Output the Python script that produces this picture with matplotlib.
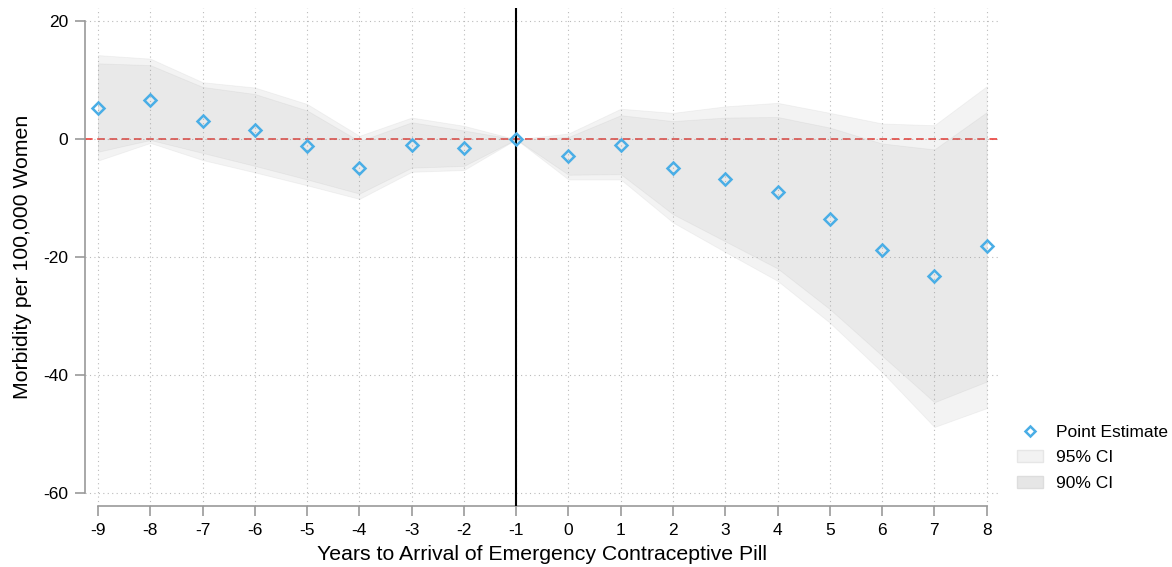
import matplotlib.pyplot as plt
import numpy as np
from matplotlib.patches import Patch
from matplotlib.lines import Line2D

plt.rcParams['font.family'] = ['Liberation Sans', 'DejaVu Sans']
plt.rcParams['axes.unicode_minus'] = False

years = [-9, -8, -7, -6, -5, -4, -3, -2, -1, 0, 1, 2, 3, 4, 5, 6, 7, 8]
point = [5.4, 6.6, 3.2, 1.6, -1.1, -4.9, -0.9, -1.5, 0.0, -2.8, -0.9, -4.9, -6.7, -8.9, -13.5, -18.7, -23.2, -18.1]
ci95_hi = [14.3, 13.7, 9.7, 8.8, 6.0, 0.6, 3.7, 2.3, 0.0, 1.0, 5.2, 4.5, 5.6, 6.2, 4.5, 2.7, 2.4, 9.0]
ci95_lo = [-3.6, -0.6, -3.5, -5.6, -7.8, -10.1, -5.5, -5.2, 0.0, -6.8, -6.8, -14.1, -19.1, -24.0, -31.1, -39.5, -48.8, -45.6]
ci90_hi = [12.9, 12.6, 8.9, 7.7, 4.9, -0.3, 2.9, 1.5, 0.0, 0.4, 4.1, 3.1, 3.7, 3.8, 2.0, -0.7, -1.7, 4.6]
ci90_lo = [-2.1, -0.1, -2.3, -4.5, -6.8, -9.2, -4.8, -4.5, 0.0, -6.0, -5.9, -12.7, -17.3, -21.9, -28.8, -36.7, -44.6, -41.1]

fig = plt.figure(figsize=(11.72, 5.67), dpi=100)
ax = fig.add_axes([0.0725, 0.1076, 0.7805, 0.8784])

gray = (0.6, 0.6, 0.6)
ax.axhline(0, color='#e8302a', lw=1.1, ls=(0, (5, 3)), zorder=1)
ax.fill_between(years, ci95_lo, ci95_hi, facecolor=gray, alpha=0.11,
                edgecolor=gray, lw=0.6, zorder=2)
ax.fill_between(years, ci90_lo, ci90_hi, facecolor=gray, alpha=0.11,
                edgecolor=gray, lw=0.6, zorder=3)
ax.axvline(-1, color='black', lw=1.5, zorder=4)
ax.plot(years, point, ls='none', marker='D', ms=6.5, mfc='none',
        mec='#4aaee6', mew=1.8, zorder=5)

ax.set_xlim(-9.25, 8.25)
ax.set_ylim(-62.2, 22.3)
ax.set_xticks(years)
ax.set_xticklabels([str(y) for y in years])
ax.set_yticks([20, 0, -20, -40, -60])
ax.grid(True, ls=(0, (1, 3)), color='#bbbbbb', lw=0.8)
ax.set_axisbelow(True)

for s in ['top', 'right']:
    ax.spines[s].set_visible(False)
ax.spines['left'].set_bounds(-60, 20)
ax.spines['bottom'].set_bounds(-9, 8)
for s in ['left', 'bottom']:
    ax.spines[s].set_color('#999999')
    ax.spines[s].set_linewidth(1.2)
ax.tick_params(colors='#999999', length=7, width=1.2, labelcolor='black',
               labelsize=12.5, pad=5)

ax.set_xlabel('Years to Arrival of Emergency Contraceptive Pill', fontsize=15.3, labelpad=5)
ax.set_ylabel('Morbidity per 100,000 Women', fontsize=15.3, labelpad=8)

handles = [
    Line2D([], [], ls='none', marker='D', ms=5.5, mfc='none', mec='#4aaee6', mew=1.8),
    Patch(facecolor='#f2f2f2', edgecolor='#e6e6e6'),
    Patch(facecolor='#e6e6e6', edgecolor='#dddddd'),
]
fig.legend(handles, ['Point Estimate', '95% CI', '90% CI'], loc='upper left',
           bbox_to_anchor=(0.8677, 0.251), frameon=False, fontsize=12.5,
           borderpad=0, borderaxespad=0,
           handlelength=1.5, handletextpad=0.75, labelspacing=0.6)

fig.savefig('out.png', dpi=100)
